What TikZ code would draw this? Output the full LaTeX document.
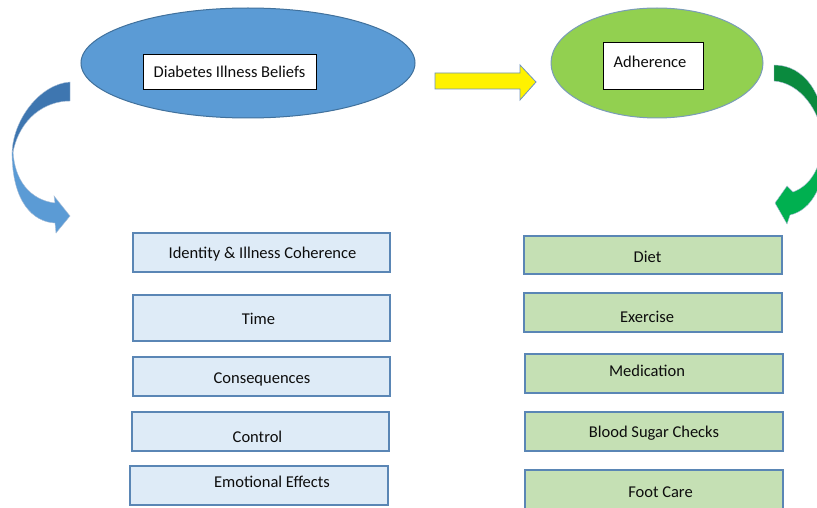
\documentclass[tikz,border=0pt]{standalone}
\usepackage{fontspec}
\setmainfont{Carlito}
\usetikzlibrary{shapes.geometric}
\definecolor{blueell}{HTML}{5B9BD5}
\definecolor{blueedge}{HTML}{41719C}
\definecolor{greenell}{HTML}{92D050}
\definecolor{greenedge}{HTML}{7A9CB8}
\definecolor{lbfill}{HTML}{DEEBF7}
\definecolor{lgfill}{HTML}{C5E0B4}
\definecolor{boxedge}{HTML}{5A86B5}
\definecolor{darkblue}{HTML}{3E76B0}
\definecolor{darkgreen}{HTML}{0A8A3E}
\definecolor{lightgreen}{HTML}{00B050}
\definecolor{arrowedge}{HTML}{6F93BD}
\newcommand{\ofs}[3]{\raisebox{#2pt}{\hspace*{#1pt}#3\hspace*{-#1pt}}}
\begin{document}
\begin{tikzpicture}[x=1pt,y=-1pt,
  every node/.style={font=\fontsize{16.5}{19}\selectfont, text=black!95},
  ell/.style={ellipse, line width=1pt, inner sep=0pt},
  lab/.style={draw=black, fill=white, line width=1pt, inner sep=0pt, text height=11pt, text depth=3pt},
  bbox/.style={draw=boxedge, fill=lbfill, line width=1.1pt, inner sep=0pt, minimum width=257pt, minimum height=39pt, text height=11pt, text depth=3pt},
  gbox/.style={draw=boxedge, fill=lgfill, line width=1.1pt, inner sep=0pt, minimum width=258pt, minimum height=39pt, text height=11pt, text depth=3pt},
  ribbon/.style={draw=arrowedge!60, line width=0.4pt}
]
\useasboundingbox (0,0) rectangle (817,508);
\fill[white] (0,0) rectangle (817,508);

% ellipses
\node[ell, draw=blueedge, fill=blueell, minimum width=334pt, minimum height=110pt] (beliefs) at (248,63) {};
\node[ell, draw=greenedge, fill=greenell, minimum width=212pt, minimum height=110pt] (adh) at (657,63) {};

% labels in ellipses
\node[lab, minimum width=173pt, minimum height=35pt] (beliefsl) at (229.5,72.5) {\ofs{0}{-1}{Diabetes Illness Beliefs}};
\node[lab, minimum width=100pt, minimum height=47pt] (adhl) at (653,66.5) {\ofs{-3}{3}{Adherence}};

% yellow arrow
\draw[draw=arrowedge, fill=yellow, line width=0.8pt]
  (435,73) -- (520,73) -- (520,65) -- (536,82) -- (520,100) -- (520,89) -- (435,89) -- cycle;

% left curved arrow (blue)
\fill[ribbon, fill=darkblue]
  (70,82) -- (70,101) .. controls (45,101) and (20,118) .. (13,152)
  -- (12,155) .. controls (12,120) and (40,84) .. (70,82) -- cycle;
\fill[ribbon, fill=blueell]
  (13,150) .. controls (14,180) and (30,200) .. (55,203)
  -- (54,196) -- (70,216) -- (56,233) -- (55,223)
  .. controls (33,222) and (12,202) .. (12,152) -- cycle;

% right curved arrow (green)
\fill[ribbon, fill=darkgreen]
  (774,65) -- (774,81) .. controls (800,83) and (820,110) .. (823,140)
  -- (826,140) .. controls (825,95) and (805,65) .. (774,65) -- cycle;
\fill[ribbon, fill=lightgreen]
  (823,138) .. controls (822,165) and (812,185) .. (793,192)
  -- (787,186) -- (775,203) -- (787,224) -- (790,215)
  .. controls (812,210) and (826,185) .. (828,138) -- cycle;

% left boxes
\node[bbox] (ident) at (261.5,252.5) {\ofs{1}{-2}{Identity \& Illness Coherence}};
\node[bbox, minimum height=46pt] (time) at (261.5,318) {\ofs{-3}{-2.5}{Time}};
\node[bbox] (cons) at (261.5,376.5) {\ofs{0.5}{-3}{Consequences}};
\node[bbox] (ctrl) at (260.5,431.5) {\ofs{-3}{-7}{Control}};
\node[bbox, minimum width=258pt] (emo) at (259,485.5) {\ofs{13}{2}{Emotional Effects}};

% right boxes
\node[gbox, minimum height=38pt] (diet) at (653,255) {\ofs{-5.5}{-3.5}{Diet}};
\node[gbox] (exer) at (653,312.5) {\ofs{-6}{-6}{Exercise}};
\node[gbox] (med) at (654,373.5) {\ofs{-7}{1}{Medication}};
\node[gbox] (bsc) at (654,431.5) {\ofs{0}{-2}{Blood Sugar Checks}};
\node[gbox] (foot) at (654,489.5) {\ofs{6.5}{-4}{Foot Care}};
\end{tikzpicture}
\end{document}
